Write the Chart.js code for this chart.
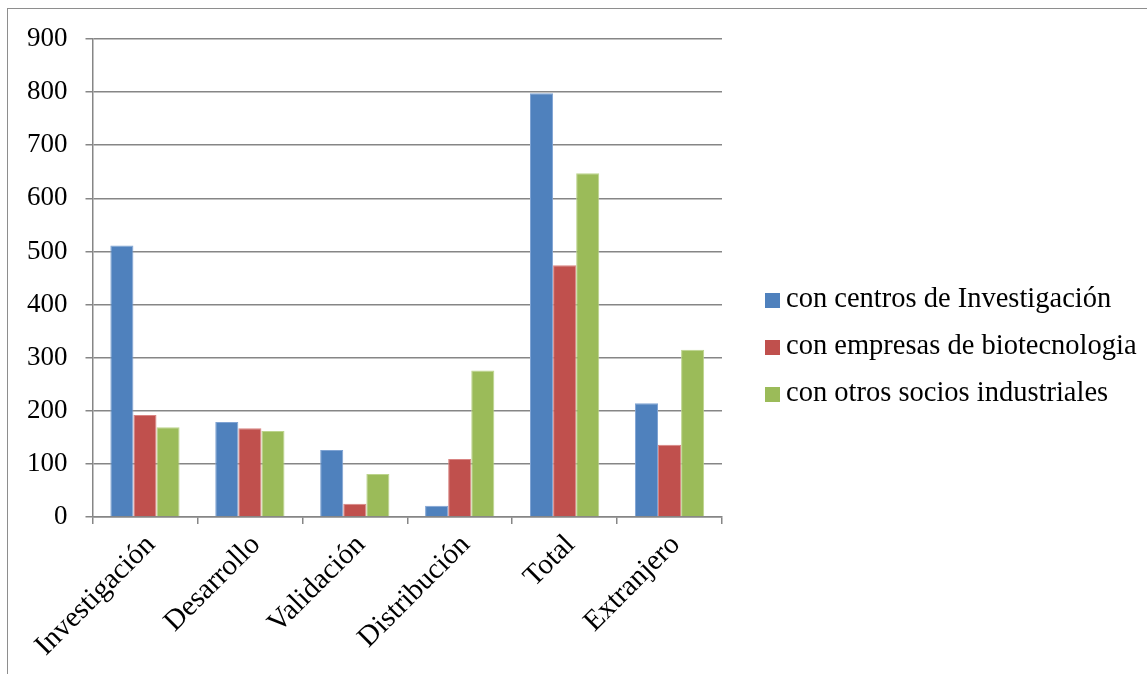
<!DOCTYPE html>
<html>
<head>
<meta charset="utf-8">
<script src="https://cdn.jsdelivr.net/npm/chart.js@4/dist/chart.umd.min.js"></script>
<style>
  body { margin: 0; background: #fff; }
  #frame { position: absolute; left: 7px; top: 8px; width: 1200px; height: 700px; border: 1px solid #8e8e8e; }
  #wrap { position: absolute; left: 0; top: 0; width: 1147px; height: 674px; }
  #legend { position: absolute; left: 765px; top: 274px; font-family: 'Liberation Serif'; font-size: 28.5px; color: #000; }
  #legend div { height: 47px; line-height: 47px; white-space: nowrap; }
  #legend span { display: inline-block; width: 15px; height: 15px; margin-right: 6px; vertical-align: -1px; }
</style>
</head>
<body>
<div id="frame"></div>
<div id="wrap"><canvas id="barChart"></canvas></div>
<div id="legend"></div>
<script>
const categories = ['Investigación', 'Desarrollo', 'Validación', 'Distribución', 'Total', 'Extranjero'];
const centros = [511, 179, 126, 21, 798, 214];
const empresas = [192, 167, 25, 109, 474, 136];
const socios = [169, 162, 81, 276, 647, 315];
const yTicks = [0, 100, 200, 300, 400, 500, 600, 700, 800, 900];

const gray = '#868686';

const ctx = document.getElementById('barChart');
const chart = new Chart(ctx, {
  type: 'bar',
  data: {
    labels: categories,
    datasets: [{
      label: 'con centros de Investigación',
      data: centros,
      backgroundColor: '#4F81BD',
      borderColor: '#7fa3d3',
      borderWidth: 1
    }, {
      label: 'con empresas de biotecnologia',
      data: empresas,
      backgroundColor: '#C0504D',
      borderColor: '#d98482',
      borderWidth: 1
    }, {
      label: 'con otros socios industriales',
      data: socios,
      backgroundColor: '#9BBB59',
      borderColor: '#bcd48c',
      borderWidth: 1
    }]
  },
  options: {
    responsive: true,
    maintainAspectRatio: false,
    animation: false,
    categoryPercentage: 0.66,
    barPercentage: 1,
    layout: { padding: { left: 9, top: 39, right: 425, bottom: 7 } },
    plugins: {
      tooltip: { enabled: false },
      legend: { display: false }
    },
    scales: {
      x: {
        grid: { drawOnChartArea: false, color: gray, lineWidth: 1.5, tickLength: 7, offset: true },
        border: { color: gray, width: 1.5 },
        ticks: {
          color: '#000',
          font: { family: 'Liberation Serif', size: 29 },
          maxRotation: 45, minRotation: 45,
          padding: 4,
          labelOffset: 6
        },
        afterFit: axis => {
          // rotated first label should not push the plot to the right
          axis.paddingLeft = 0;
          axis.paddingRight = 0;
          axis.height = 150;
        }
      },
      y: {
        min: 0,
        max: 900,
        afterBuildTicks: axis => { axis.ticks = yTicks.map(v => ({ value: v })); },
        grid: { color: gray, lineWidth: 1.5, tickLength: 7 },
        border: { color: gray, width: 1.5 },
        ticks: { color: '#000', font: { family: 'Liberation Serif', size: 27 }, padding: 18 }
      }
    }
  }
});

// legend drawn as html, the built-in one is capped at a quarter of the width
const legendEl = document.getElementById('legend');
chart.data.datasets.forEach(ds => {
  const row = document.createElement('div');
  const box = document.createElement('span');
  box.style.background = ds.backgroundColor;
  row.appendChild(box);
  row.appendChild(document.createTextNode(ds.label));
  legendEl.appendChild(row);
});
</script>
</body>
</html>
